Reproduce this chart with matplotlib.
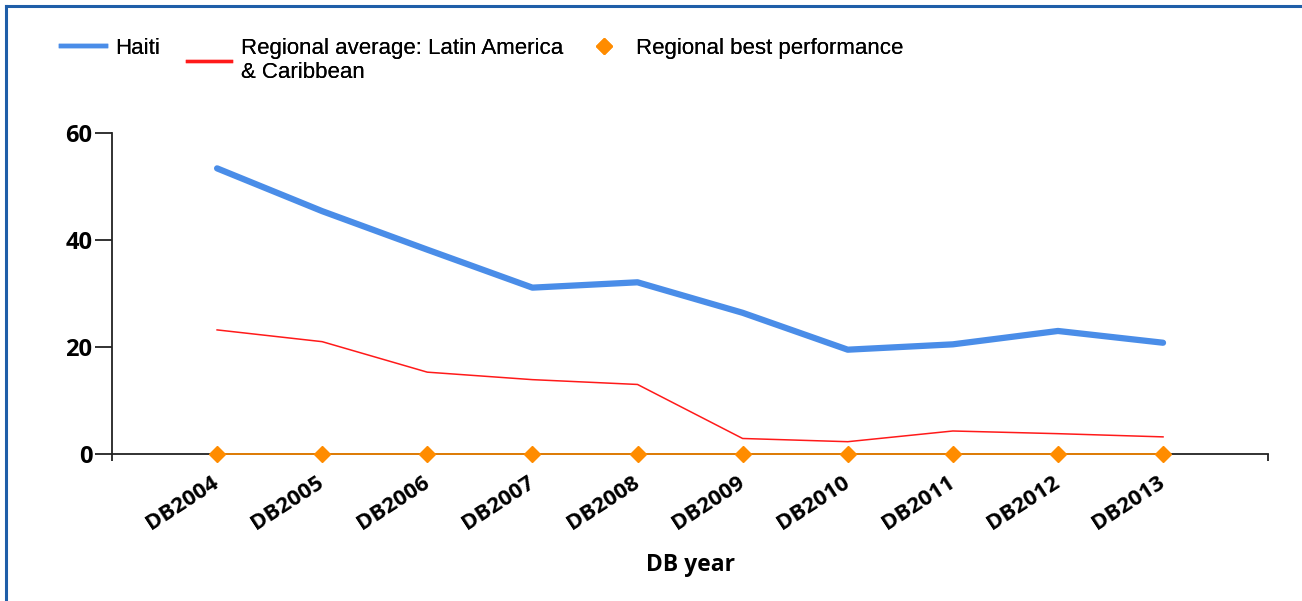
import numpy as np
import matplotlib
matplotlib.use("Agg")
import matplotlib.pyplot as plt
from matplotlib.lines import Line2D

# values
years = ["DB2004", "DB2005", "DB2006", "DB2007", "DB2008",
         "DB2009", "DB2010", "DB2011", "DB2012", "DB2013"]
haiti = [53.4, 45.4, 38.2, 31.1, 32.1, 26.4, 19.5, 20.5, 23.0, 20.8]
regional_avg = [23.2, 21.0, 15.3, 13.9, 13.0, 2.9, 2.3, 4.3, 3.8, 3.2]
regional_best = [0, 0, 0, 0, 0, 0, 0, 0, 0, 0]
yticks = [0, 20, 40, 60]

BLUE = "#4a8de8"
RED = "#ff1a1a"
ORANGE = "#ff8c00"
TICKFONT = "Open Sans"
LEGFONT = {"family": "Liberation Sans", "size": 16}


def main():
    fig = plt.figure(figsize=(13.02, 6.01), dpi=100)
    ax = fig.add_axes([0.086, 0.2446, 0.888, 0.534])

    x = np.arange(len(years))
    ax.plot(x, regional_best, color=ORANGE, lw=1.2, marker="D",
            ms=8, mec=ORANGE, mfc=ORANGE, zorder=2, clip_on=False)
    ax.plot(x, haiti, color=BLUE, lw=4.5, solid_capstyle="round", zorder=3)
    ax.plot(x, regional_avg, color=RED, lw=1.1, zorder=3)

    ax.set_xlim(-1, len(years))
    ax.set_ylim(0, 60)
    ax.set_yticks(yticks)
    ax.set_yticklabels([str(v) for v in yticks], fontfamily=TICKFONT,
                       fontweight="bold", fontsize=17)

    # ticks at every slot, labels only at the categories
    ax.set_xticks(np.arange(-1, len(years) + 1))
    ax.set_xticklabels([""] + years + [""], fontfamily=TICKFONT,
                       fontweight="bold", fontsize=16, rotation=33,
                       ha="right", va="center", rotation_mode="anchor")
    ax.tick_params(axis="x", length=5, width=1.3, pad=14, color="#222222")
    ax.tick_params(axis="y", length=12, width=1.3, pad=2, color="#222222")

    for side in ["top", "right"]:
        ax.spines[side].set_visible(False)
    for side in ["left", "bottom"]:
        ax.spines[side].set_linewidth(1.3)
        ax.spines[side].set_color("#222222")
    ax.spines["bottom"].set_zorder(1)

    ax.set_xlabel("DB year", fontfamily=TICKFONT, fontweight="bold",
                  fontsize=16.5, va="center")
    ax.xaxis.set_label_coords(0.5, -0.345)

    # legend: one box per entry so the single-line ones sit on the first line
    legkw = dict(loc="upper left", frameon=False, borderpad=0,
                 borderaxespad=0, handlelength=2.0, handletextpad=0.45,
                 prop=LEGFONT)
    h_haiti = Line2D([], [], color=BLUE, lw=3.2)
    h_avg = Line2D([], [], color=RED, lw=2.4)
    h_best = Line2D([], [], color=ORANGE, ls="none", marker="D", ms=8)
    entries = [
        (h_haiti, "Haiti", 0.0469),
        (h_avg, "Regional average: Latin America\n& Caribbean", 0.1436),
        (h_best, "Regional best performance", 0.447),
    ]
    for handle, label, left in entries:
        leg = fig.legend([handle], [label], bbox_to_anchor=(left, 0.937),
                         **legkw)
        fig.add_artist(leg)

    # blue frame on top and left edges
    fig.add_artist(Line2D([0.0045, 1.0], [0.9895, 0.9895], color="#1f5ea8",
                          lw=2.2, transform=fig.transFigure))
    fig.add_artist(Line2D([0.0045, 0.0045], [0.0, 0.9895], color="#1f5ea8",
                          lw=2.2, transform=fig.transFigure))

    fig.savefig("out.png", dpi=100)


if __name__ == "__main__":
    main()
